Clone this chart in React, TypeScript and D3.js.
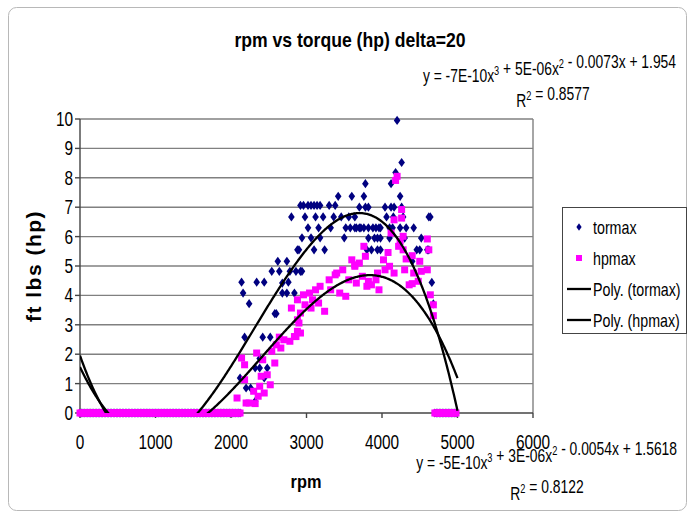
import * as d3 from 'd3'

const W = 690
const H = 513
const PLOT = { left: 80, right: 533, top: 119, bottom: 413 }

const xTicks = [0, 1000, 2000, 3000, 4000, 5000, 6000]
const yTicks = [0, 1, 2, 3, 4, 5, 6, 7, 8, 9, 10]

// sampling step from the title (delta=20), used for the flat zero runs
const RPM_STEP = 20
const zeroRuns: [number, number][] = [[0, 2120], [4700, 4980]]

// [rpm, ft lbs]
const tormaxPoints: [number, number][] = [
  [2120, 1.19], [2140, 4.45], [2160, 4.08], [2180, 2.58], [2200, 0.85], [2240, 3.72],
  [2260, 0.85], [2320, 1.53], [2320, 0.4], [2340, 4.45], [2380, 1.53], [2380, 1.85],
  [2420, 2.58], [2440, 4.45], [2440, 1.19], [2480, 1.53], [2520, 2.58], [2540, 4.82],
  [2580, 3.38], [2600, 3.38], [2620, 5.16], [2640, 4.82], [2680, 4.08], [2680, 4.42],
  [2740, 4.08], [2740, 5.16], [2760, 4.45], [2780, 4.82], [2800, 6.67], [2840, 4.08],
  [2860, 4.82], [2880, 5.55], [2900, 5.55], [2920, 4.82], [2940, 4.82], [2940, 5.96],
  [2920, 7.06], [2960, 7.06], [3020, 7.06], [3060, 7.06], [3100, 7.06], [3140, 7.06],
  [3180, 7.06], [3300, 7.06], [3380, 7.06], [3420, 7.37], [3600, 7.37],
  [2980, 6.67], [3120, 6.67], [3220, 6.67], [3360, 6.67], [3460, 6.67], [3560, 6.67], [3640, 6.67],
  [3020, 6.3], [3160, 6.3], [3320, 6.3], [3520, 6.3], [3580, 6.3], [3640, 6.3],
  [3060, 5.96], [3180, 5.96], [3500, 5.96], [3100, 5.55], [3240, 5.55],
  [4200, 9.95], [4260, 8.52], [4180, 8.18], [3780, 7.8], [4120, 7.8],
  [3760, 7.37], [4240, 7.37],
  [3700, 7.0], [3780, 7.0], [3820, 7.0], [4040, 7.0], [4120, 7.0], [4160, 7.0], [4260, 7.0],
  [4060, 6.67], [4150, 6.67], [4280, 6.67], [4620, 6.67], [4640, 6.67],
  [3660, 6.3], [3700, 6.3], [3720, 6.3], [3760, 6.3], [3820, 6.3], [3880, 6.3], [3920, 6.3],
  [3960, 6.3], [3980, 6.3], [4100, 6.3], [4140, 6.3], [4240, 6.3], [4320, 6.3], [4420, 6.3],
  [3820, 5.95], [3900, 5.95], [3940, 5.95], [3980, 5.95], [4100, 5.95], [4300, 5.95], [4520, 5.95],
  [3800, 5.55], [3860, 5.55], [3940, 5.55], [3980, 5.55], [4460, 5.55], [4500, 5.55],
  [4600, 5.55], [4620, 5.55], [4400, 5.16], [4660, 4.44], [4680, 3.71],
]

const hpmaxPoints: [number, number][] = [
  [2080, 0.51], [2140, 1.87], [2180, 1.64], [2180, 1.13], [2200, 0.34], [2240, 0.34],
  [2300, 0.74], [2320, 0.32], [2340, 2.04], [2360, 0.57], [2380, 0.91], [2400, 1.25],
  [2420, 1.81], [2440, 0.68], [2480, 1.3], [2520, 0.96], [2540, 2.1], [2580, 1.7],
  [2600, 2.32], [2640, 2.58], [2660, 2.21], [2700, 2.49], [2780, 2.44], [2800, 3.57],
  [2840, 2.6], [2860, 2.6], [2880, 2.78], [2880, 3.17], [2880, 3.85], [2900, 3.06],
  [2920, 3.4], [2920, 2.72], [2980, 3.68], [2960, 4.02], [3040, 4.08], [3060, 3.57],
  [3080, 3.85], [3120, 4.19], [3160, 3.74], [3180, 4.31], [3240, 3.46], [3300, 4.53],
  [3320, 4.19], [3380, 4.7], [3400, 4.76], [3440, 4.08], [3480, 4.87], [3520, 3.97],
  [3560, 4.53], [3600, 5.21], [3640, 5.04], [3640, 4.99], [3660, 4.42], [3700, 5.1],
  [3740, 4.65], [3760, 5.67], [3780, 5.33], [3800, 4.31], [3820, 4.48], [3860, 4.36],
  [3920, 4.53], [3940, 4.76], [3960, 4.19], [4020, 5.21], [4040, 4.87], [4080, 5.46],
  [4100, 4.99], [4120, 6.12], [4160, 4.76], [4160, 6.57], [4180, 7.91], [4200, 8.05],
  [4220, 5.67], [4240, 5.84], [4260, 6.63], [4260, 6.92], [4280, 6.01], [4280, 5.55],
  [4300, 4.87], [4320, 5.24], [4360, 4.36], [4400, 4.4], [4400, 5.35], [4420, 4.76],
  [4480, 4.48], [4500, 5.16], [4520, 4.82], [4600, 4.87], [4600, 5.92], [4620, 5.55],
  [4640, 4.02], [4680, 3.68], [4680, 3.31],
]

// cubic trendline coefficients (a x^3 + b x^2 + c x + d)
const tormaxFit = [-7.246e-10, 5.008e-6, -0.0073, 1.954]
const hpmaxFit = [-4.77e-10, 3.45e-6, -0.0054, 1.5618]
const fitRange: [number, number] = [0, 5000]

const legendLabels = ['tormax', 'hpmax', 'Poly. (tormax)', 'Poly. (hpmax)']

const FONT = '"Liberation Sans", Arial, sans-serif'
const NAVY = '#000080'
const MAGENTA = '#ff00ff'

function Label({ x, y, size = 20, bold = false, anchor = 'middle', sx = 0.77, rotate = 0, spacing = 0, children }: any) {
  return (
    <text
      transform={`translate(${x},${y}) rotate(${rotate}) scale(${sx},1)`}
      textAnchor={anchor}
      fontSize={size}
      fontWeight={bold ? 'bold' : 'normal'}
      fontFamily={FONT}
      letterSpacing={spacing}
      fill="#000"
    >
      {children}
    </text>
  )
}

function Sup({ children }: any) {
  return (
    <>
      <tspan dy={-7} fontSize={12}>{children}</tspan>
      <tspan dy={7}>{''}</tspan>
    </>
  )
}

const diamond = 'M0,-4.6L3.3,0L0,4.6L-3.3,0Z'
const SQ = 7

export default function App() {
  const x = d3.scaleLinear().domain([0, 6000]).range([PLOT.left, PLOT.right])
  const y = d3.scaleLinear().domain([0, 10]).range([PLOT.bottom, PLOT.top])

  const zeros: [number, number][] = zeroRuns.flatMap(([a, b]) =>
    d3.range(a, b + 1, RPM_STEP).map(r => [r, 0] as [number, number]))
  const tormax = [...zeros, ...tormaxPoints]
  const hpmax = [...zeros, ...hpmaxPoints]

  const poly = (c: number[]) => (v: number) => ((c[0] * v + c[1]) * v + c[2]) * v + c[3]
  const samples = d3.range(fitRange[0], fitRange[1] + 1, 10)
  const line = d3.line<number>().x(d => x(d))
  const tormaxPath = line.y(d => y(poly(tormaxFit)(d)))(samples)
  const hpmaxPath = line.y(d => y(poly(hpmaxFit)(d)))(samples)

  const legend = { x: 562, y: 207, w: 124, h: 126 }
  const legendRows = [227, 258, 289, 320]

  return (
    <svg width={W} height={H} style={{ position: 'absolute', left: 0, top: 0, background: '#fff' }}>
      <defs>
        <clipPath id="plot-clip">
          <rect x={PLOT.left} y={PLOT.top} width={PLOT.right - PLOT.left} height={PLOT.bottom - PLOT.top} />
        </clipPath>
      </defs>
      <rect x={8.5} y={7.5} width={678} height={503} rx={8} fill="#fff" stroke="#b8b8b8" />

      {/* grid */}
      {yTicks.filter(t => t > 0).map(t => (
        <line key={t} x1={PLOT.left} x2={PLOT.right} y1={y(t)} y2={y(t)} stroke="#808080" strokeWidth={1.4} />
      ))}
      <line x1={PLOT.right} x2={PLOT.right} y1={PLOT.top} y2={PLOT.bottom} stroke="#808080" strokeWidth={1.4} />

      {/* axes */}
      <line x1={PLOT.left} x2={PLOT.left} y1={PLOT.top} y2={PLOT.bottom} stroke="#444" strokeWidth={1.4} />
      <line x1={PLOT.left} x2={PLOT.right} y1={PLOT.bottom} y2={PLOT.bottom} stroke="#444" strokeWidth={1.4} />
      {yTicks.map(t => (
        <g key={t}>
          <line x1={PLOT.left - 5} x2={PLOT.left} y1={y(t)} y2={y(t)} stroke="#444" strokeWidth={1.4} />
          <Label x={73} y={y(t) + 7} anchor="end">{t}</Label>
        </g>
      ))}
      {xTicks.map(t => (
        <g key={t}>
          <line x1={x(t)} x2={x(t)} y1={PLOT.bottom} y2={PLOT.bottom + 5} stroke="#444" strokeWidth={1.4} />
          <Label x={x(t)} y={449}>{t}</Label>
        </g>
      ))}

      {/* markers */}
      {tormax.map(([r, v], i) => (
        <path key={'t' + i} d={diamond} transform={`translate(${x(r)},${y(v)})`} fill={NAVY} />
      ))}
      {hpmax.map(([r, v], i) => (
        <rect key={'h' + i} x={x(r) - SQ / 2} y={y(v) - SQ / 2} width={SQ} height={SQ} fill={MAGENTA} />
      ))}

      {/* trendlines */}
      <g clipPath="url(#plot-clip)" fill="none" stroke="#000" strokeWidth={2.3}>
        <path d={tormaxPath ?? ''} />
        <path d={hpmaxPath ?? ''} />
      </g>

      {/* titles */}
      <Label x={350} y={47} size={20} bold sx={0.88}>rpm vs torque (hp) delta=20</Label>
      <Label x={306} y={488} size={19} bold sx={0.86}>rpm</Label>
      <Label x={41} y={266} size={21} bold sx={1} rotate={-90} spacing={1.5}>ft lbs (hp)</Label>

      {/* equations */}
      <Label x={676} y={82} size={18} anchor="end">
        y = -7E-10x<Sup>3</Sup> + 5E-06x<Sup>2</Sup> - 0.0073x + 1.954
      </Label>
      <Label x={553} y={107} size={18}>
        R<Sup>2</Sup> = 0.8577
      </Label>
      <Label x={677} y={469} size={18} anchor="end">
        y = -5E-10x<Sup>3</Sup> + 3E-06x<Sup>2</Sup> - 0.0054x + 1.5618
      </Label>
      <Label x={547} y={500} size={18}>
        R<Sup>2</Sup> = 0.8122
      </Label>

      {/* legend */}
      <rect x={legend.x + 0.5} y={legend.y + 0.5} width={legend.w} height={legend.h} fill="#fff" stroke="#444" />
      <path d={diamond} transform={`translate(579,${legendRows[0]}) scale(0.8)`} fill={NAVY} />
      <rect x={576} y={legendRows[1] - 3} width={6} height={6} fill={MAGENTA} />
      <line x1={567} x2={591} y1={legendRows[2]} y2={legendRows[2]} stroke="#000" strokeWidth={2.3} />
      <line x1={567} x2={591} y1={legendRows[3]} y2={legendRows[3]} stroke="#000" strokeWidth={2.3} />
      {legendLabels.map((s, i) => (
        <Label key={s} x={593} y={legendRows[i] + 6.5} size={19} anchor="start" sx={0.75}>{s}</Label>
      ))}
    </svg>
  )
}
